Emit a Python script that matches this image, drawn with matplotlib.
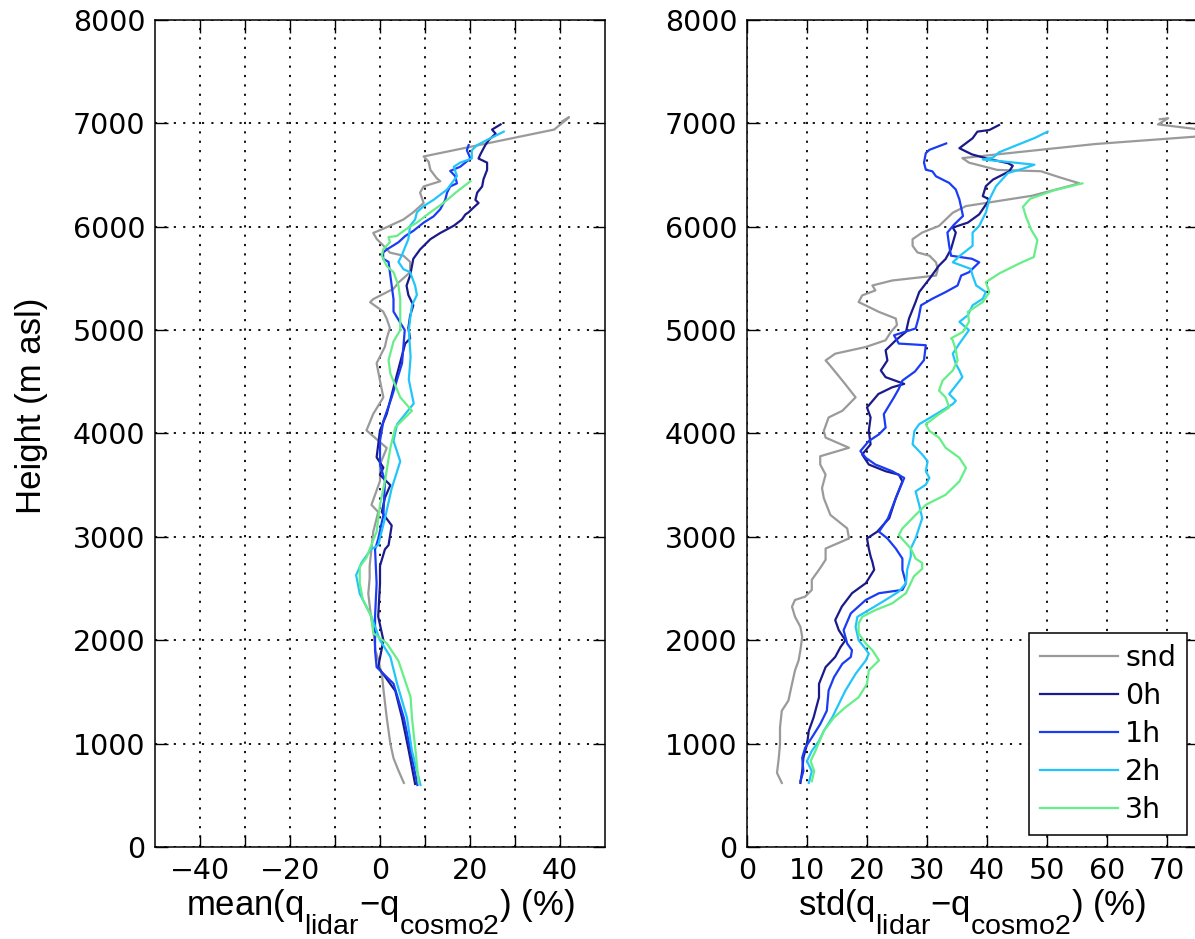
import numpy as np
import matplotlib.pyplot as plt
from matplotlib.ticker import FixedLocator

plt.rcParams['font.family'] = ['Liberation Sans', 'DejaVu Sans']
plt.rcParams['mathtext.fontset'] = 'custom'
plt.rcParams['mathtext.rm'] = 'Liberation Sans'
plt.rcParams['mathtext.it'] = 'Liberation Sans'

# bigger, lower subscripts (closer to the original's look)
try:
    import matplotlib._mathtext as _mt
    _mt.SHRINK_FACTOR = 0.82
    _mt.FontConstantsBase.sub1 = 1.0
except Exception:
    pass

labels = ['snd', '0h', '1h', '2h', '3h']
colors = ['#9a9a9a', '#1a1a8a', '#1a3cf5', '#22c5fa', '#66ee88']

# ---- mean(q_lidar - q_cosmo2) (%) vs height (m asl) ----
mean_snd_h = [620, 750, 860, 1000, 1250, 1510, 1640, 1800, 1900, 2100, 2230, 2450, 2600, 2720, 2880,
              3050, 3240, 3310, 3540, 3700, 3860, 4030, 4190, 4350, 4510, 4680, 4840, 4920, 5020,
              5110, 5180, 5270, 5300, 5400, 5460, 5560, 5660, 5720, 5750, 5820, 5880, 5940, 5980,
              6070, 6140, 6230, 6330, 6390, 6440, 6470, 6550, 6630, 6680, 6940, 7040, 7060, 7020]
mean_snd_x = [5.3, 4.0, 3.0, 2.3, 1.5, 0.8, 0.5, -0.3, -1.0, -1.5, -2.0, -2.6, -2.3, -2.3, -1.9,
              -1.5, -0.4, -1.9, 0.0, 0.0, 1.5, -3.0, -1.5, 0.75, 0.0, -0.75, 1.1, 1.5, 2.2,
              1.5, 0.7, -2.2, -1.5, 3.0, 4.1, 6.7, 6.7, 5.2, 2.2, 0.7, -0.7, -1.5, 0.7,
              5.2, 7.4, 9.7, 8.9, 9.7, 13.4, 12.6, 11.2, 10.8, 9.7, 38.7, 41.5, 42.0, 40.5]

mean_0h_h = [610, 930, 1250, 1510, 1740, 2000, 2230, 2550, 2720, 2880, 2920, 3110, 3240, 3380, 3500,
             3600, 3670, 3770, 4030, 4190, 4510, 4870, 4920, 5020, 5140, 5240, 5340, 5430, 5530,
             5620, 5690, 5780, 5880, 5940, 6010, 6070, 6120, 6140, 6170, 6230, 6260, 6330, 6390,
             6460, 6550, 6620, 6660, 6700, 6790, 6840, 6900, 6940, 6990]
mean_0h_x = [7.8, 6.4, 4.9, 3.4, -0.4, 0.75, -0.4, 0.0, 0.0, 1.1, 1.9, 2.6, 0.4, 1.1, 2.3,
             0.0, 0.75, -0.75, 0.0, 1.5, 3.4, 5.6, 6.7, 6.3, 6.7, 7.4, 6.3, 5.9, 6.7,
             7.1, 7.4, 8.9, 11.2, 13.4, 16.4, 18.2, 19.0, 19.7, 20.4, 21.9, 21.2, 21.6, 22.7,
             23.0, 23.8, 23.8, 21.9, 22.3, 23.4, 24.2, 25.7, 24.9, 26.8]

mean_1h_h = [600, 930, 1250, 1580, 1740, 1900, 2230, 2550, 2880, 2980, 3210, 3540, 3700, 3930, 4120,
             4350, 4680, 5000, 5180, 5300, 5430, 5560, 5660, 5690, 5750, 5780, 5820, 5850, 5910,
             5960, 6040, 6100, 6170, 6260, 6330, 6390, 6420, 6490, 6540, 6580, 6660, 6740, 6790]
mean_1h_x = [8.3, 6.8, 5.3, 3.0, -0.75, -1.1, -1.1, -0.75, -1.1, -0.4, 0.75, 1.1, 0.0, 0.0, 0.75,
             2.6, 4.9, 5.5, 3.0, 3.0, 2.6, 2.2, 1.9, 0.7, 0.7, 1.5, 3.0, 4.1, 5.6,
             7.4, 9.7, 11.9, 13.4, 14.5, 14.9, 15.6, 17.1, 16.7, 15.6, 17.8, 20.1, 19.3, 19.7]

mean_2h_h = [600, 930, 1250, 1580, 1840, 2000, 2230, 2450, 2630, 2750, 2880, 2920, 3180, 3470, 3730,
             3930, 4090, 4290, 4520, 4740, 5000, 5110, 5240, 5340, 5430, 5560, 5590, 5660, 5720,
             5880, 6010, 6070, 6140, 6200, 6260, 6360, 6490, 6580, 6620, 6660, 6740, 6790, 6840, 6920]
mean_2h_x = [9.0, 7.1, 6.0, 3.8, 2.3, 0.0, -1.9, -4.5, -5.3, -4.1, -2.0, -0.4, 1.1, 2.6, 4.5,
             3.0, 3.8, 7.5, 6.4, 6.8, 6.4, 6.7, 7.1, 8.2, 7.8, 6.7, 5.2, 4.1, 4.8,
             6.3, 6.7, 7.8, 8.2, 9.7, 11.9, 14.9, 17.1, 16.4, 17.8, 20.4, 20.4, 21.6, 23.8, 27.5]

mean_3h_h = [620, 930, 1250, 1450, 1800, 1970, 2070, 2230, 2390, 2550, 2710, 2800, 2880, 3050, 3310,
             3540, 3860, 4060, 4220, 4350, 4580, 4710, 4890, 5000, 5180, 5300, 5430, 5560, 5620,
             5720, 5780, 5850, 5900, 5910, 5980, 6040, 6140, 6230, 6340, 6440]
mean_3h_x = [8.6, 7.9, 7.1, 6.8, 4.1, 1.5, -1.5, -1.9, -3.8, -4.5, -4.5, -3.0, -2.3, -0.75, 0.0,
             1.1, 2.3, 3.4, 7.1, 4.5, 2.3, 1.9, 3.0, 4.5, 4.5, 4.5, 4.1, 3.0, 1.5,
             0.4, 0.7, 2.2, 1.9, 3.7, 5.9, 8.2, 11.2, 14.1, 17.1, 20.1]

# ---- std(q_lidar - q_cosmo2) (%) vs height (m asl) ----
std_snd_h = [620, 717, 864, 993, 1156, 1318, 1416, 1578, 1708, 1805, 1903, 2032, 2130, 2227, 2325,
             2390, 2422, 2487, 2585, 2682, 2725, 2779, 2887, 2985, 3082, 3147, 3212, 3375, 3472,
             3602, 3700, 3780, 3862, 3960, 4025, 4155, 4220, 4350, 4512, 4675, 4707, 4772, 4837,
             4902, 4984, 5050, 5112, 5176, 5272, 5336, 5384, 5432, 5480, 5528, 5590, 5656, 5720,
             5752, 5816, 5880, 5944, 6008, 6136, 6200, 6250, 6300, 6360, 6420, 6480, 6537, 6550,
             6620, 6664, 6713, 6800, 6871, 6910, 6947, 6990, 7050, 7040]
std_snd_x = [5.8, 5.0, 5.3, 5.5, 5.5, 5.8, 6.9, 7.5, 8.0, 8.6, 8.9, 9.2, 8.9, 8.0, 7.5,
             8.0, 9.7, 10.8, 10.8, 12.0, 12.5, 13.1, 13.1, 17.0, 16.7, 15.3, 13.9, 12.8, 12.5,
             13.1, 12.2, 12.2, 17.0, 13.1, 12.8, 13.6, 15.9, 18.1, 15.9, 13.6, 13.1, 14.7, 19.8,
             23.1, 24.0, 25.0, 24.8, 22.0, 18.6, 19.2, 21.4, 20.9, 24.2, 31.5, 31.8, 31.5, 30.4,
             28.4, 27.6, 27.6, 29.2, 32.0, 34.3, 36.5, 42.0, 47.5, 51.5, 55.4, 52.0, 49.0, 41.7,
             37.0, 35.9, 43.8, 58.0, 74.6, 79.0, 74.6, 68.5, 70.2, 68.8]

std_0h_h = [620, 733, 864, 993, 1123, 1253, 1448, 1578, 1740, 1838, 1935, 2000, 2097, 2195, 2325,
            2455, 2552, 2682, 2757, 2812, 2887, 2985, 3050, 3180, 3375, 3537, 3602, 3635, 3700,
            3797, 3895, 4025, 4155, 4252, 4382, 4447, 4480, 4545, 4610, 4707, 4805, 4902, 4984,
            5112, 5272, 5368, 5496, 5624, 5688, 5784, 5944, 5992, 6040, 6120, 6264, 6296, 6392,
            6456, 6536, 6590, 6615, 6660, 6700, 6728, 6760, 6856, 6920, 6936, 6984]
std_0h_x = [8.9, 9.2, 9.4, 10.0, 10.3, 11.1, 12.0, 12.0, 13.1, 14.7, 15.6, 16.4, 15.3, 14.7, 15.8,
            17.5, 19.8, 21.2, 20.9, 20.6, 20.3, 20.0, 21.7, 23.7, 24.8, 25.9, 25.3, 23.1, 20.3,
            19.2, 20.6, 20.3, 20.6, 20.0, 21.9, 24.2, 26.2, 23.1, 22.3, 23.4, 23.1, 24.8, 26.5,
            27.0, 28.1, 28.7, 30.4, 32.0, 33.1, 34.0, 34.8, 34.3, 36.8, 38.7, 40.4, 39.3, 39.8,
            41.0, 43.7, 44.3, 43.5, 40.0, 37.5, 36.5, 35.4, 37.6, 38.4, 40.4, 42.0]

std_1h_h = [636, 733, 864, 961, 1058, 1188, 1318, 1513, 1643, 1773, 1838, 1903, 1968, 2097, 2260,
            2390, 2455, 2487, 2552, 2682, 2790, 2887, 2985, 3050, 3180, 3375, 3570, 3635, 3700,
            3765, 3830, 3927, 3992, 4057, 4187, 4350, 4432, 4512, 4600, 4710, 4854, 4870, 4950,
            5016, 5120, 5240, 5304, 5368, 5432, 5528, 5560, 5656, 5690, 5720, 5816, 5944, 6020,
            6104, 6264, 6360, 6424, 6488, 6536, 6552, 6620, 6712, 6744, 6806]
std_1h_x = [8.9, 9.4, 9.2, 9.7, 10.8, 12.2, 13.3, 13.6, 14.5, 15.9, 17.3, 17.5, 16.7, 16.1, 17.3,
            19.8, 22.0, 25.9, 26.5, 25.9, 25.9, 24.8, 23.4, 22.0, 23.5, 24.8, 26.2, 24.2, 21.4,
            19.8, 18.9, 20.3, 22.0, 23.1, 22.8, 24.5, 25.3, 25.9, 28.0, 29.5, 29.8, 25.3, 24.5,
            28.1, 28.6, 29.0, 30.9, 33.1, 35.1, 35.7, 37.0, 38.7, 37.5, 34.0, 33.7, 33.4, 34.5,
            36.0, 35.4, 34.8, 33.7, 31.5, 30.9, 29.8, 29.5, 29.8, 30.4, 33.2]

std_2h_h = [620, 733, 831, 929, 1026, 1123, 1253, 1383, 1513, 1675, 1805, 1870, 1935, 2000, 2130,
            2227, 2292, 2390, 2471, 2552, 2682, 2812, 2887, 2985, 3180, 3310, 3440, 3505, 3570,
            3635, 3732, 3797, 3895, 4025, 4090, 4187, 4285, 4317, 4382, 4545, 4610, 4675, 4772,
            4870, 5000, 5080, 5144, 5240, 5304, 5368, 5432, 5528, 5592, 5656, 5720, 5816, 5944,
            6008, 6136, 6264, 6392, 6520, 6560, 6600, 6630, 6650, 6670, 6720, 6790, 6860, 6920]
std_2h_x = [10.3, 10.8, 10.0, 10.8, 12.0, 12.8, 14.2, 15.3, 16.4, 18.1, 19.8, 20.3, 19.5, 18.6, 18.1,
            18.4, 20.3, 23.1, 25.3, 26.5, 26.7, 27.3, 27.3, 28.1, 29.2, 28.7, 28.1, 29.8, 30.4,
            29.8, 30.1, 29.2, 27.6, 27.9, 28.7, 31.5, 34.3, 34.8, 33.7, 35.9, 35.4, 34.8, 34.3,
            35.4, 37.0, 35.4, 36.8, 37.6, 39.3, 39.8, 38.2, 37.6, 37.3, 34.3, 35.5, 37.6, 37.6,
            38.7, 39.8, 40.4, 41.5, 43.5, 45.9, 47.9, 43.0, 39.3, 41.0, 42.0, 45.0, 48.0, 50.1]

std_3h_h = [636, 733, 831, 929, 1123, 1253, 1351, 1448, 1578, 1708, 1805, 1903, 1968, 2065, 2162,
            2227, 2292, 2357, 2455, 2617, 2692, 2747, 2790, 2887, 3017, 3082, 3212, 3310, 3407,
            3537, 3667, 3765, 3862, 3960, 4025, 4090, 4187, 4252, 4350, 4415, 4512, 4610, 4707,
            4805, 4902, 4920, 4984, 5080, 5176, 5272, 5368, 5464, 5550, 5645, 5707, 5871, 5968,
            6097, 6193, 6271, 6353, 6420]
std_3h_x = [10.8, 11.2, 10.6, 11.4, 12.8, 14.5, 16.4, 18.6, 20.0, 20.3, 22.0, 20.9, 19.8, 18.6, 18.6,
            19.2, 21.4, 24.2, 26.5, 27.8, 29.2, 29.2, 28.1, 27.3, 25.3, 25.9, 28.1, 29.8, 33.1,
            35.4, 36.5, 35.4, 33.1, 32.0, 30.4, 29.8, 32.0, 33.7, 33.1, 32.0, 32.6, 34.3, 35.1,
            34.8, 34.3, 34.0, 36.0, 37.0, 36.8, 39.3, 40.4, 39.8, 42.1, 45.4, 47.8, 48.4, 47.4,
            46.5, 46.0, 47.2, 51.2, 55.9]

mean_series = [(mean_snd_x, mean_snd_h), (mean_0h_x, mean_0h_h), (mean_1h_x, mean_1h_h),
               (mean_2h_x, mean_2h_h), (mean_3h_x, mean_3h_h)]
std_series = [(std_snd_x, std_snd_h), (std_0h_x, std_0h_h), (std_1h_x, std_1h_h),
              (std_2h_x, std_2h_h), (std_3h_x, std_3h_h)]

tick_fs = 20.5    # tick labels and legend
label_fs = 25     # axis labels
tick_font = 'DejaVu Sans'

W, H = 1195, 939
fig = plt.figure(figsize=(W / 100, H / 100), dpi=100)
ax1 = fig.add_axes([155 / W, (H - 847) / H, 450 / W, 827 / H])
ax2 = fig.add_axes([747 / W, (H - 847) / H, 450 / W, 827 / H])

for ax, series in [(ax1, mean_series), (ax2, std_series)]:
    for (x, h), c, lab in zip(series, colors, labels):
        ax.plot(x, h, color=c, lw=1.6, label=lab)
    ax.set_ylim(0, 8000)
    ax.set_yticks(np.arange(0, 8001, 1000))
    ax.grid(True, color='black', linestyle=(0, (1.2, 4.0)), lw=1.3)
    ax.tick_params(direction='in', top=True, right=True, length=9, width=1,
                   labelsize=tick_fs, pad=7)
    for s in ax.spines.values():
        s.set_linewidth(1.1)

ax1.set_xlim(-50, 50)
ax1.xaxis.set_major_locator(FixedLocator(np.arange(-40, 41, 10)))
ax1.set_xticklabels(['\u221240', '', '\u221220', '', '0', '', '20', '', '40'])
ax1.set_xlabel('mean(q$_\\mathrm{lidar}$\u2212q$_\\mathrm{cosmo2}$) (%)', fontsize=label_fs)
ax1.set_ylabel('Height (m asl)', fontsize=label_fs)
ax1.yaxis.set_label_coords(-0.238, 0.534)

ax2.set_xlim(0, 75)
ax2.set_xticks(np.arange(0, 71, 10))
ax2.set_xlabel('std(q$_\\mathrm{lidar}$\u2212q$_\\mathrm{cosmo2}$) (%)', fontsize=label_fs)

for ax in (ax1, ax2):
    ax.xaxis.set_label_coords(0.5, -0.048)
    ax.xaxis.label.set_va('top')
    for t in ax.get_xticklabels() + ax.get_yticklabels():
        t.set_fontfamily(tick_font)

leg = ax2.legend(loc='lower right', bbox_to_anchor=(0.978, 0.015),
                 prop={'family': tick_font, 'size': tick_fs},
                 frameon=True, fancybox=False, edgecolor='black', framealpha=1,
                 handlelength=2.75, handletextpad=0.25, labelspacing=0.35,
                 borderpad=0.38, borderaxespad=0)
leg.get_frame().set_linewidth(1.1)

fig.savefig('out.png', dpi=100)
